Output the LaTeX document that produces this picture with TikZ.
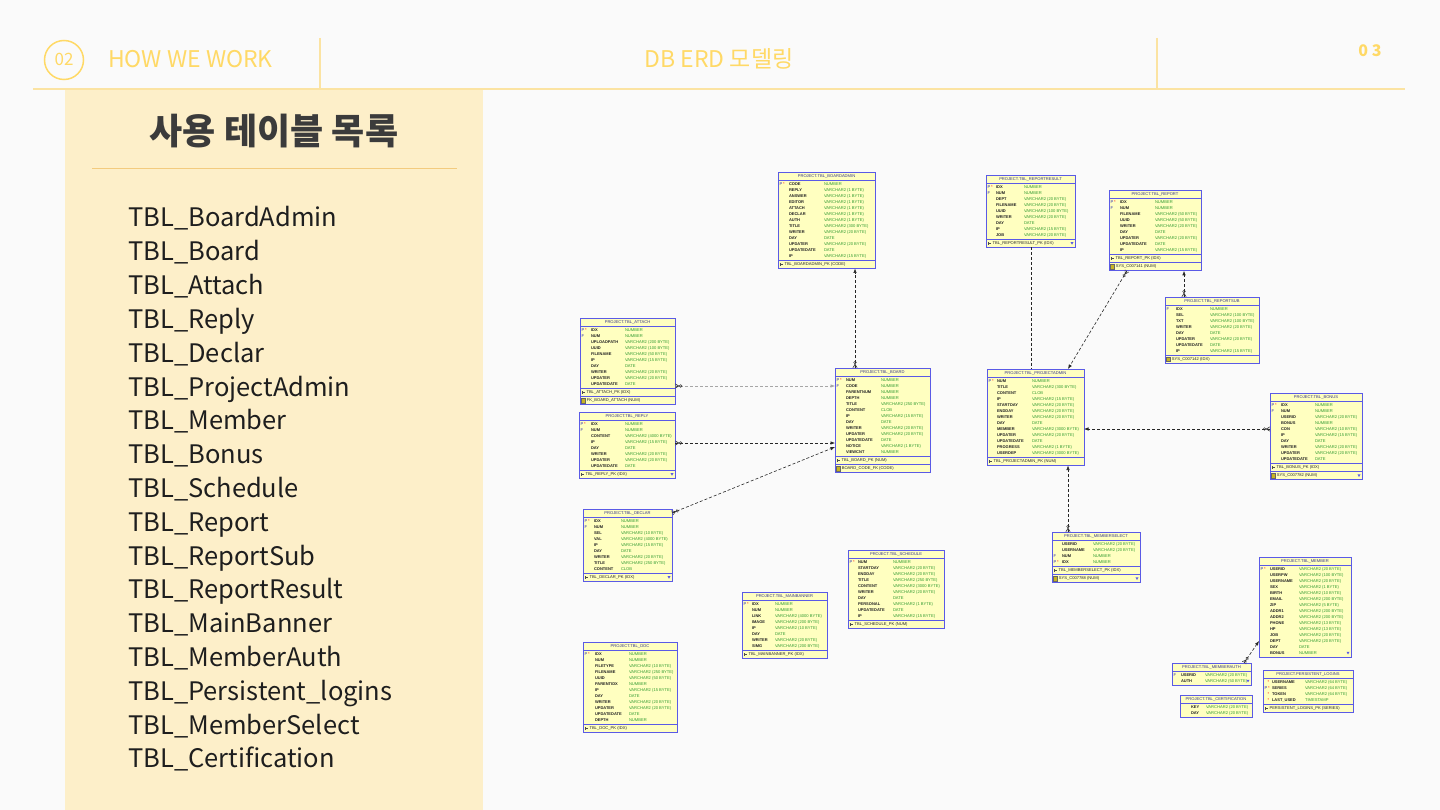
\documentclass[tikz,border=0pt]{standalone}
\usepackage{fontspec}
\setmainfont{Noto Sans CJK KR}
\newfontfamily\erdfont{Liberation Sans}
\usetikzlibrary{arrows.meta,calc}
\definecolor{bgcol}{HTML}{FAFAFA}
\definecolor{hdr}{HTML}{FFD966}
\definecolor{hdrline}{HTML}{FBE3A2}
\definecolor{panel}{HTML}{FDEFC9}
\definecolor{titlecol}{HTML}{3B3B3B}
\definecolor{sepcol}{HTML}{F3CB7E}
\definecolor{listcol}{HTML}{1E1E1E}
\definecolor{tabfill}{HTML}{FFFFC0}
\definecolor{tabedge}{HTML}{5A5AE6}
\definecolor{typecol}{HTML}{2E9A2E}
\definecolor{titleblue}{HTML}{33338A}
\definecolor{namecol}{HTML}{222222}
\definecolor{keyblue}{HTML}{2A2AB0}
\definecolor{iconcol}{HTML}{C8B422}
\newcommand{\erdkP}{\textcolor{keyblue}{P}\hspace{0.8pt}\textcolor{red}{*}}
\newcommand{\erdkF}{\textcolor{keyblue}{F}}
\newcommand{\erdkS}{\hspace{3.2pt}\textcolor{red}{*}}
\newcommand{\erdkN}{}
\tikzset{
  tabbox/.style={rectangle, draw=tabedge, fill=tabfill, line width=0.8pt, inner sep=0pt, outer sep=0pt},
  erdtxt/.style={font=\erdfont\fontsize{4.1}{5}\selectfont, inner sep=0pt, outer sep=0pt},
  ttl/.style={erdtxt, text=titleblue},
  kt/.style={erdtxt, anchor=west},
  cn/.style={erdtxt, anchor=west, text=namecol, font=\erdfont\bfseries\fontsize{4.0}{5}\selectfont},
  ct/.style={erdtxt, anchor=west, text=typecol},
  ft/.style={erdtxt, anchor=west, text=namecol},
  sepline/.style={draw=tabedge, line width=0.6pt},
  fkline/.style={dash pattern=on 3pt off 2pt, line width=0.6pt, draw=black!85},
  fkgrey/.style={fkline, draw=black!35},
  tipend/.style={-{Latex[length=4.5pt,width=3.5pt]}},
  listitem/.style={anchor=base west, font=\fontsize{25.5}{30}\selectfont, text=listcol, inner sep=0pt},
  crow/.pic={
    \draw[line width=0.5pt, draw=black!80] (0,2.2) -- (4,0) -- (0,-2.2) (0,0) -- (4,0);
    \draw[line width=0.5pt, draw=black!80] (5.6,0) circle[radius=1.3pt];
  }
}
% #1 id, #2 left, #3 top, #4 width, #5 height, #6 title, #7 name offset, #8 type offset, #9 rows
\newcommand{\erdtab}[9]{%
  \node[tabbox, minimum width=#4pt, minimum height=#5pt, anchor=north west] (#1) at (#2,#3) {};
  \node[ttl] (#1-ttl) at ({#2+#4/2},{#3+4.5}) {#6};
  \draw[sepline] ({#2},{#3+8.5}) -- ({#2+#4},{#3+8.5});
  \foreach [count=\ri] \rk/\rn/\rt in {#9} {
    \node[kt] (#1-k\ri) at ({#2+1.5},{#3+12+(\ri-1)*6}) {\rk};
    \node[cn] (#1-n\ri) at ({#2+#7},{#3+12+(\ri-1)*6}) {\rn};
    \node[ct] (#1-t\ri) at ({#2+#8},{#3+12+(\ri-1)*6}) {\rt};
  }}
% #1 name, #2 left, #3 width, #4 separator y, #5 text
\newcommand{\erdpk}[5]{%
  \draw[sepline] ({#2},{#4}) -- ({#2+#3},{#4});
  \draw[line width=0.4pt, black!70] ({#2+2},{#4+4.3}) -- ({#2+5},{#4+4.3}) ({#2+2},{#4+3}) -- ({#2+2},{#4+5.6});
  \node[ft] (#1) at ({#2+6.5},{#4+4.3}) {#5};}
\newcommand{\erdfk}[5]{%
  \draw[sepline] ({#2},{#4}) -- ({#2+#3},{#4});
  \fill[iconcol] ({#2+1.5},{#4+2.2}) rectangle ({#2+5.5},{#4+6.4});
  \draw[line width=0.3pt, black!60] ({#2+1.5},{#4+2.2}) rectangle ({#2+5.5},{#4+6.4});
  \node[ft] (#1) at ({#2+6.8},{#4+4.3}) {#5};}
\newcommand{\erdtri}[2]{%
  \fill[tabedge] ({#1-4.5},{#2-1.2}) -- ({#1-1.5},{#2-1.2}) -- ({#1-3},{#2+1.4}) -- cycle;}
\begin{document}
\begin{tikzpicture}[x=1pt,y=-1pt]
\useasboundingbox (0,0) rectangle (1440,810);
\fill[bgcol] (0,0) rectangle (1440,810);
% ---------- header ----------
\fill[panel] (65,90) rectangle (483,810);
\draw[hdrline, line width=2pt] (33,89) -- (1405,89);
\draw[hdrline, line width=1.2pt] (320,38) -- (320,89);
\draw[hdrline, line width=1.2pt] (1157,38) -- (1157,89);
\node[circle, draw=hdr, line width=1.5pt, minimum size=39pt, inner sep=0pt] (numcircle) at (64,60) {};
\node[anchor=base, text=hdr, font=\fontsize{17}{20}\selectfont, inner sep=0pt] (numtxt) at (64,66) {02};
\node[anchor=base west, text=hdr, font=\fontsize{23}{26}\selectfont, inner sep=0pt] (howwework) at (108,68) {HOW WE WORK};
\node[anchor=base, text=hdr, font=\fontsize{23}{26}\selectfont, inner sep=0pt] (pagetitle) at (719,68) {DB ERD 모델링};
\node[anchor=base, text=hdr, font=\bfseries\fontsize{16}{18}\selectfont, inner sep=0pt] (pagenum) at (1370,57) {0 3};
% ---------- left panel ----------
\node[text=titlecol, font=\bfseries\fontsize{36}{40}\selectfont, inner sep=0pt] (listtitle) at (274,131) {사용 테이블 목록};
\draw[sepcol, line width=0.8pt] (92,168) -- (457,168);
\foreach [count=\li] \lt in {TBL\_BoardAdmin, TBL\_Board, TBL\_Attach, TBL\_Reply, TBL\_Declar, TBL\_ProjectAdmin, TBL\_Member, TBL\_Bonus, TBL\_Schedule, TBL\_Report, TBL\_ReportSub, TBL\_ReportResult, TBL\_MainBanner, TBL\_MemberAuth, TBL\_Persistent\_logins, TBL\_MemberSelect, TBL\_Certification}
  \node[listitem] (item\li) at (128,{227+(\li-1)*33.8}) {\lt};
% ---------- ERD tables ----------
\erdtab{tBoardAdmin}{778}{172}{97}{96.5}{PROJECT.TBL\_BOARDADMIN}{11}{46}{
 \erdkP/CODE/NUMBER, \erdkN/REPLY/VARCHAR2 (1 BYTE), \erdkN/ANSWER/VARCHAR2 (1 BYTE), \erdkN/EDITOR/VARCHAR2 (1 BYTE),
 \erdkN/ATTACH/VARCHAR2 (1 BYTE), \erdkN/DECLAR/VARCHAR2 (1 BYTE), \erdkN/AUTH/VARCHAR2 (1 BYTE), \erdkN/TITLE/VARCHAR2 (300 BYTE),
 \erdkN/WRITER/VARCHAR2 (20 BYTE), \erdkN/DAY/DATE, \erdkN/UPDATER/VARCHAR2 (20 BYTE), \erdkN/UPDATEDATE/DATE, \erdkN/IP/VARCHAR2 (15 BYTE)}
\erdpk{fBoardAdmin}{778}{97}{260}{TBL\_BOARDADMIN\_PK (CODE)}

\erdtab{tReportResult}{986}{175}{89}{72.5}{PROJECT.TBL\_REPORTRESULT}{10}{38}{
 \erdkP/IDX/NUMBER, \erdkF/NUM/NUMBER, \erdkN/DEPT/VARCHAR2 (20 BYTE), \erdkN/FILENAME/VARCHAR2 (20 BYTE),
 \erdkN/UUID/VARCHAR2 (100 BYTE), \erdkN/WRITER/VARCHAR2 (20 BYTE), \erdkN/DAY/DATE, \erdkN/IP/VARCHAR2 (15 BYTE), \erdkN/JOB/VARCHAR2 (20 BYTE)}
\erdpk{fReportResult}{986}{89}{239}{TBL\_REPORTRESULT\_PK (IDX)}
\erdtri{1075}{243.3}

\erdtab{tReport}{1109}{190}{92}{80.8}{PROJECT.TBL\_REPORT}{11}{46}{
 \erdkP/IDX/NUMBER, \erdkF/NUM/NUMBER, \erdkN/FILENAME/VARCHAR2 (50 BYTE), \erdkN/UUID/VARCHAR2 (50 BYTE),
 \erdkN/WRITER/VARCHAR2 (20 BYTE), \erdkN/DAY/DATE, \erdkN/UPDATER/VARCHAR2 (20 BYTE), \erdkN/UPDATEDATE/DATE, \erdkN/IP/VARCHAR2 (15 BYTE)}
\erdpk{fReport1}{1109}{92}{254}{TBL\_REPORT\_PK (IDX)}
\erdfk{fReport2}{1109}{92}{262.3}{SYS\_C007141 (NUM)}

\erdtab{tReportSub}{1165}{297}{94}{66.5}{PROJECT.TBL\_REPORTSUB}{11}{45}{
 \erdkF/IDX/NUMBER, \erdkN/SEL/VARCHAR2 (100 BYTE), \erdkN/TXT/VARCHAR2 (100 BYTE), \erdkN/WRITER/VARCHAR2 (20 BYTE),
 \erdkN/DAY/DATE, \erdkN/UPDATER/VARCHAR2 (20 BYTE), \erdkN/UPDATEDATE/DATE, \erdkN/IP/VARCHAR2 (15 BYTE)}
\erdfk{fReportSub}{1165}{94}{355}{SYS\_C007142 (IDX)}

\erdtab{tAttach}{580}{318}{95}{86.8}{PROJECT.TBL\_ATTACH}{11}{45}{
 \erdkP/IDX/NUMBER, \erdkF/NUM/NUMBER, \erdkN/UPLOADPATH/VARCHAR2 (200 BYTE), \erdkN/UUID/VARCHAR2 (100 BYTE),
 \erdkN/FILENAME/VARCHAR2 (50 BYTE), \erdkN/IP/VARCHAR2 (15 BYTE), \erdkN/DAY/DATE, \erdkN/WRITER/VARCHAR2 (20 BYTE),
 \erdkN/UPDATER/VARCHAR2 (20 BYTE), \erdkN/UPDATEDATE/DATE}
\erdpk{fAttach1}{580}{95}{388}{TBL\_ATTACH\_PK (IDX)}
\erdfk{fAttach2}{580}{95}{396.3}{FK\_BOARD\_ATTACH (NUM)}

\erdtab{tReply}{579}{412}{96}{66.5}{PROJECT.TBL\_REPLY}{12}{46}{
 \erdkP/IDX/NUMBER, \erdkF/NUM/NUMBER, \erdkN/CONTENT/VARCHAR2 (4000 BYTE), \erdkN/IP/VARCHAR2 (15 BYTE),
 \erdkN/DAY/DATE, \erdkN/WRITER/VARCHAR2 (20 BYTE), \erdkN/UPDATER/VARCHAR2 (20 BYTE), \erdkN/UPDATEDATE/DATE}
\erdpk{fReply}{579}{96}{470}{TBL\_REPLY\_PK (IDX)}
\erdtri{675}{474.3}

\erdtab{tBoard}{835}{368}{95}{104.8}{PROJECT.TBL\_BOARD}{11}{46}{
 \erdkP/NUM/NUMBER, \erdkF/CODE/NUMBER, \erdkN/PARENTNUM/NUMBER, \erdkN/DEPTH/NUMBER,
 \erdkN/TITLE/VARCHAR2 (250 BYTE), \erdkN/CONTENT/CLOB, \erdkN/IP/VARCHAR2 (15 BYTE), \erdkN/DAY/DATE,
 \erdkN/WRITER/VARCHAR2 (20 BYTE), \erdkN/UPDATER/VARCHAR2 (20 BYTE), \erdkN/UPDATEDATE/DATE,
 \erdkN/NOTICE/VARCHAR2 (1 BYTE), \erdkN/VIEWCNT/NUMBER}
\erdpk{fBoard1}{835}{95}{456}{TBL\_BOARD\_PK (NUM)}
\erdfk{fBoard2}{835}{95}{464.3}{BOARD\_CODE\_FK (CODE)}

\erdtab{tProjectAdmin}{987}{369}{97}{96.5}{PROJECT.TBL\_PROJECTADMIN}{10}{45}{
 \erdkP/NUM/NUMBER, \erdkN/TITLE/VARCHAR2 (300 BYTE), \erdkN/CONTENT/CLOB, \erdkN/IP/VARCHAR2 (15 BYTE),
 \erdkN/STARTDAY/VARCHAR2 (20 BYTE), \erdkN/ENDDAY/VARCHAR2 (20 BYTE), \erdkN/WRITER/VARCHAR2 (20 BYTE), \erdkN/DAY/DATE,
 \erdkN/MEMBER/VARCHAR2 (3000 BYTE), \erdkN/UPDATER/VARCHAR2 (20 BYTE), \erdkN/UPDATEDATE/DATE,
 \erdkN/PROGRESS/VARCHAR2 (1 BYTE), \erdkN/USERDEP/VARCHAR2 (3000 BYTE)}
\erdpk{fProjectAdmin}{987}{97}{457}{TBL\_PROJECTADMIN\_PK (NUM)}

\erdtab{tBonus}{1270}{393}{92}{86.8}{PROJECT.TBL\_BONUS}{11}{45}{
 \erdkP/IDX/NUMBER, \erdkF/NUM/NUMBER, \erdkN/USERID/VARCHAR2 (20 BYTE), \erdkN/BONUS/NUMBER,
 \erdkN/CON/VARCHAR2 (10 BYTE), \erdkN/IP/VARCHAR2 (15 BYTE), \erdkN/DAY/DATE, \erdkN/WRITER/VARCHAR2 (20 BYTE),
 \erdkN/UPDATER/VARCHAR2 (20 BYTE), \erdkN/UPDATEDATE/DATE}
\erdpk{fBonus1}{1270}{92}{463}{TBL\_BONUS\_PK (IDX)}
\erdfk{fBonus2}{1270}{92}{471.3}{SYS\_C007782 (NUM)}
\erdtri{1362}{475.6}

\erdtab{tDeclar}{583}{509}{89}{72.5}{PROJECT.TBL\_DECLAR}{11}{38}{
 \erdkP/IDX/NUMBER, \erdkF/NUM/NUMBER, \erdkN/SEL/VARCHAR2 (10 BYTE), \erdkN/VAL/VARCHAR2 (4000 BYTE),
 \erdkN/IP/VARCHAR2 (15 BYTE), \erdkN/DAY/DATE, \erdkN/WRITER/VARCHAR2 (20 BYTE), \erdkN/TITLE/VARCHAR2 (250 BYTE), \erdkN/CONTENT/CLOB}
\erdpk{fDeclar}{583}{89}{573}{TBL\_DECLAR\_PK (IDX)}
\erdtri{672}{577.3}

\erdtab{tDoc}{583}{642}{94}{90.5}{PROJECT.TBL\_DOC}{12}{46}{
 \erdkP/IDX/NUMBER, \erdkN/NUM/NUMBER, \erdkN/FILETYPE/VARCHAR2 (10 BYTE), \erdkN/FILENAME/VARCHAR2 (250 BYTE),
 \erdkN/UUID/VARCHAR2 (50 BYTE), \erdkN/PARENTIDX/NUMBER, \erdkN/IP/VARCHAR2 (15 BYTE), \erdkN/DAY/DATE,
 \erdkN/WRITER/VARCHAR2 (20 BYTE), \erdkN/UPDATER/VARCHAR2 (20 BYTE), \erdkN/UPDATEDATE/DATE, \erdkN/DEPTH/NUMBER}
\erdpk{fDoc}{583}{94}{724}{TBL\_DOC\_PK (IDX)}

\erdtab{tMainBanner}{742}{592}{85}{66.5}{PROJECT.TBL\_MAINBANNER}{10}{33}{
 \erdkP/IDX/NUMBER, \erdkN/NUM/NUMBER, \erdkN/LINK/VARCHAR2 (4000 BYTE), \erdkN/IMAGE/VARCHAR2 (200 BYTE),
 \erdkN/IP/VARCHAR2 (10 BYTE), \erdkN/DAY/DATE, \erdkN/WRITER/VARCHAR2 (20 BYTE), \erdkN/SIMG/VARCHAR2 (200 BYTE)}
\erdpk{fMainBanner}{742}{85}{650}{TBL\_MAINBANNER\_PK (IDX)}

\erdtab{tSchedule}{848}{550}{96}{78.5}{PROJECT.TBL\_SCHEDULE}{10}{45}{
 \erdkP/NUM/NUMBER, \erdkN/STARTDAY/VARCHAR2 (20 BYTE), \erdkN/ENDDAY/VARCHAR2 (20 BYTE), \erdkN/TITLE/VARCHAR2 (250 BYTE),
 \erdkN/CONTENT/VARCHAR2 (3000 BYTE), \erdkN/WRITER/VARCHAR2 (20 BYTE), \erdkN/DAY/DATE, \erdkN/PERSONAL/VARCHAR2 (1 BYTE),
 \erdkN/UPDATEDATE/DATE, \erdkN/IP/VARCHAR2 (15 BYTE)}
\erdpk{fSchedule}{848}{96}{620}{TBL\_SCHEDULE\_PK (NUM)}

\erdtab{tMemberSelect}{1052}{532}{88}{50.8}{PROJECT.TBL\_MEMBERSELECT}{10}{41}{
 \erdkN/USERID/VARCHAR2 (20 BYTE), \erdkN/USERNAME/VARCHAR2 (20 BYTE), \erdkF/NUM/NUMBER, \erdkP/IDX/NUMBER}
\erdpk{fMemberSelect1}{1052}{88}{566}{TBL\_MEMBERSELECT\_PK (IDX)}
\erdfk{fMemberSelect2}{1052}{88}{574.3}{SYS\_C007788 (NUM)}
\erdtri{1140}{578.6}

\erdtab{tMember}{1259}{557}{92}{100}{PROJECT.TBL\_MEMBER}{11}{40}{
 \erdkP/USERID/VARCHAR2 (20 BYTE), \erdkN/USERPW/VARCHAR2 (100 BYTE), \erdkN/USERNAME/VARCHAR2 (20 BYTE),
 \erdkN/SEX/VARCHAR2 (1 BYTE), \erdkN/BIRTH/VARCHAR2 (10 BYTE), \erdkN/EMAIL/VARCHAR2 (200 BYTE),
 \erdkN/ZIP/VARCHAR2 (5 BYTE), \erdkN/ADDR1/VARCHAR2 (200 BYTE), \erdkN/ADDR2/VARCHAR2 (200 BYTE),
 \erdkN/PHONE/VARCHAR2 (13 BYTE), \erdkN/HP/VARCHAR2 (13 BYTE), \erdkN/JOB/VARCHAR2 (20 BYTE),
 \erdkN/DEPT/VARCHAR2 (20 BYTE), \erdkN/DAY/DATE, \erdkN/BONUS/NUMBER}
\erdtri{1351}{653}

\erdtab{tMemberAuth}{1172}{663}{79}{22}{PROJECT.TBL\_MEMBERAUTH}{9}{33}{
 \erdkF/USERID/VARCHAR2 (20 BYTE), \erdkN/AUTH/VARCHAR2 (50 BYTE)}
\erdtri{1251}{681}

\erdtab{tCertification}{1180}{695}{72}{22}{PROJECT.TBL\_CERTIFICATION}{11}{26}{
 \erdkN/KEY/VARCHAR2 (20 BYTE), \erdkN/DAY/VARCHAR2 (20 BYTE)}

\erdtab{tPersistent}{1263}{670}{90}{42.5}{PROJECT.PERSISTENT\_LOGINS}{9}{42}{
 \erdkS/USERNAME/VARCHAR2 (64 BYTE), \erdkP/SERIES/VARCHAR2 (64 BYTE), \erdkS/TOKEN/VARCHAR2 (64 BYTE), \erdkS/LAST\_USED/TIMESTAMP}
\erdpk{fPersistent}{1263}{90}{704}{PERSISTENT\_LOGINS\_PK (SERIES)}

% ---------- relationships ----------
\draw[fkline, tipend] ([xshift=20pt]tBoard.north west) -- ([xshift=77pt]tBoardAdmin.south west);
\pic[rotate=90] at ([xshift=20pt]tBoard.north west) {crow};
\draw[fkgrey, tipend] ([yshift=-68pt]tAttach.north east) -- ([yshift=-18pt]tBoard.north west);
\pic[rotate=0] at ([yshift=-68pt]tAttach.north east) {crow};
\draw[fkline, tipend] ([yshift=-31pt]tReply.north east) -- ([yshift=-75pt]tBoard.north west);
\pic[rotate=0] at ([yshift=-31pt]tReply.north east) {crow};
\draw[fkline, tipend] ([yshift=-4pt]tDeclar.north east) -- ([yshift=-79pt]tBoard.north west);
\pic[rotate=22] at ([yshift=-4pt]tDeclar.north east) {crow};
\draw[fkline] ([xshift=45pt]tReportResult.south west) -- ([xshift=44pt]tProjectAdmin.north west);
\draw[fkline, tipend] ([xshift=18pt]tReport.south west) -- ([xshift=81pt]tProjectAdmin.north west);
\pic[rotate=-121] at ([xshift=18pt]tReport.south west) {crow};
\draw[fkline, tipend] ([xshift=19pt]tReportSub.north west) -- ([xshift=75pt]tReport.south west);
\pic[rotate=90] at ([xshift=19pt]tReportSub.north west) {crow};
\draw[fkline, tipend] ([yshift=-36pt]tBonus.north west) -- ([yshift=-60pt]tProjectAdmin.north east);
\pic[rotate=180] at ([yshift=-36pt]tBonus.north west) {crow};
\draw[fkline, tipend] ([xshift=16pt]tMemberSelect.north west) -- ([xshift=81pt]tProjectAdmin.south west);
\pic[rotate=90] at ([xshift=16pt]tMemberSelect.north west) {crow};
\draw[fkline, tipend] ([xshift=72pt]tMemberAuth.north west) -- ([yshift=-84pt]tMember.north west);
\pic[rotate=56] at ([xshift=72pt]tMemberAuth.north west) {crow};
\end{tikzpicture}
\end{document}
